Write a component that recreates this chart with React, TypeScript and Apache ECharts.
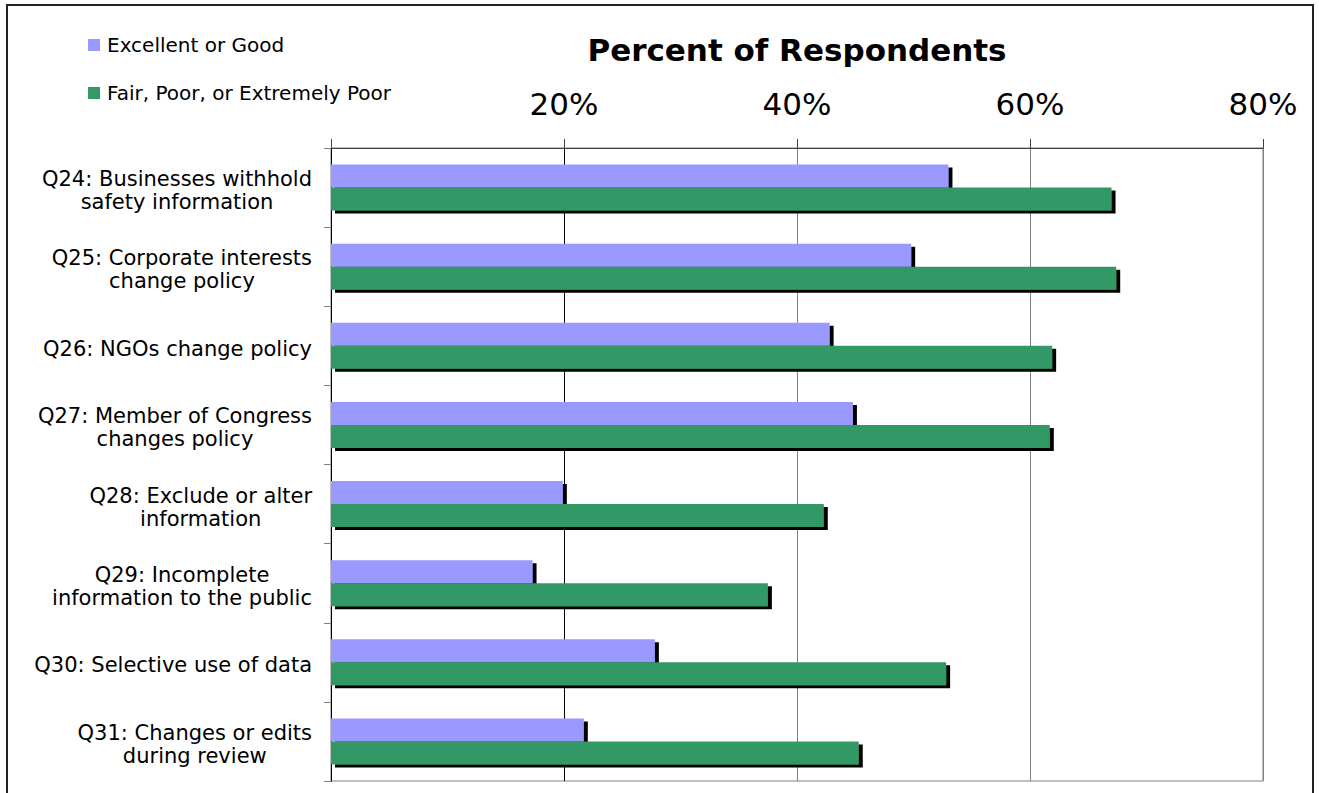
import React, { useEffect, useRef } from "react";
import * as echarts from "echarts";

const categories = [
  "Q24: Businesses withhold\nsafety information",
  "Q25: Corporate interests\nchange policy",
  "Q26: NGOs change policy",
  "Q27: Member of Congress\nchanges policy",
  "Q28: Exclude or alter\ninformation",
  "Q29: Incomplete\ninformation to the public",
  "Q30: Selective use of data",
  "Q31: Changes or edits\nduring review",
];
const excellentOrGood = [53.0, 49.8, 42.8, 44.8, 19.9, 17.3, 27.8, 21.7];
const fairPoorExtremelyPoor = [67.0, 67.4, 61.9, 61.7, 42.3, 37.5, 52.8, 45.3];
const seriesNames = ["Excellent or Good", "Fair, Poor, or Extremely Poor"];
const titleText = "Percent of Respondents";

const FONT = "'DejaVu Sans', Verdana, sans-serif";

export default function App() {
  const ref = useRef<HTMLDivElement>(null);
  useEffect(() => {
    if (!ref.current) return;
    const chart = echarts.init(ref.current, undefined, { renderer: "svg" });
    const barStyle = (color: string) => ({
      color,
      shadowColor: "#000",
      shadowBlur: 0,
      shadowOffsetX: 4,
      shadowOffsetY: 3,
    });
    chart.setOption({
      animation: false,
      backgroundColor: "#fff",
      textStyle: { fontFamily: FONT },
      graphic: [
        {
          type: "rect",
          shape: { x: 7, y: 5, width: 1306, height: 800 },
          style: { fill: "none", stroke: "#222", lineWidth: 2 },
          silent: true,
          z: 100,
        },
        {
          type: "text",
          x: 797,
          y: 50,
          style: {
            text: titleText,
            textAlign: "center",
            textVerticalAlign: "middle",
            fontSize: 31,
            fontWeight: "bold",
            fontFamily: FONT,
            fill: "#000",
          },
        },
      ],
      legend: {
        orient: "vertical",
        left: 88,
        top: 35,
        padding: 0,
        itemWidth: 12,
        itemHeight: 12,
        itemGap: 28,
        icon: "rect",
        textStyle: {
          fontSize: 20,
          fontFamily: FONT,
          color: "#000",
          lineHeight: 20,
          padding: [0, 0, 0, 2],
        },
        itemStyle: {
          shadowBlur: 0,
          shadowOffsetX: 0,
          shadowOffsetY: 0,
          shadowColor: "rgba(0,0,0,0)",
        },
        data: seriesNames,
      },
      grid: {
        left: 331,
        right: 56,
        top: 148,
        bottom: 12,
        show: true,
        borderColor: "#808080",
        borderWidth: 1,
        backgroundColor: "transparent",
      },
      xAxis: {
        type: "value",
        position: "top",
        min: 0,
        max: 80,
        interval: 20,
        axisLine: { show: true, lineStyle: { color: "#404040", width: 1 } },
        axisTick: { show: true, length: 9, lineStyle: { color: "#404040" } },
        axisLabel: {
          formatter: (v: number) => (v === 0 ? "" : v + "%"),
          fontSize: 31,
          fontFamily: FONT,
          color: "#000",
          margin: 29,
        },
        splitLine: {
          show: true,
          lineStyle: { color: ["#000", "#000", "#808080", "#808080", "#808080"], width: 1 },
        },
      },
      yAxis: {
        type: "category",
        inverse: true,
        data: categories,
        axisLine: { show: true, lineStyle: { color: "#000", width: 1 } },
        axisTick: { show: true, length: 7, lineStyle: { color: "#808080" } },
        axisLabel: {
          margin: 19,
          padding: [6, 0, 0, 0],
          formatter: (v: string) =>
            v
              .split("\n")
              .map((l) => `{c|${l}}`)
              .join("\n"),
          rich: {
            c: {
              align: "center",
              fontSize: 21,
              fontFamily: FONT,
              color: "#000",
              lineHeight: 23,
            },
          },
        },
      },
      series: [
        {
          name: seriesNames[0],
          type: "bar",
          data: excellentOrGood,
          barWidth: 23,
          barGap: "0%",
          itemStyle: barStyle("#9999FF"),
        },
        {
          name: seriesNames[1],
          type: "bar",
          data: fairPoorExtremelyPoor,
          barWidth: 23,
          barGap: "0%",
          itemStyle: barStyle("#339966"),
        },
      ],
    });
    return () => chart.dispose();
  }, []);
  return (
    <div
      ref={ref}
      style={{ position: "absolute", left: 0, top: 0, width: 1319, height: 793 }}
    />
  );
}
